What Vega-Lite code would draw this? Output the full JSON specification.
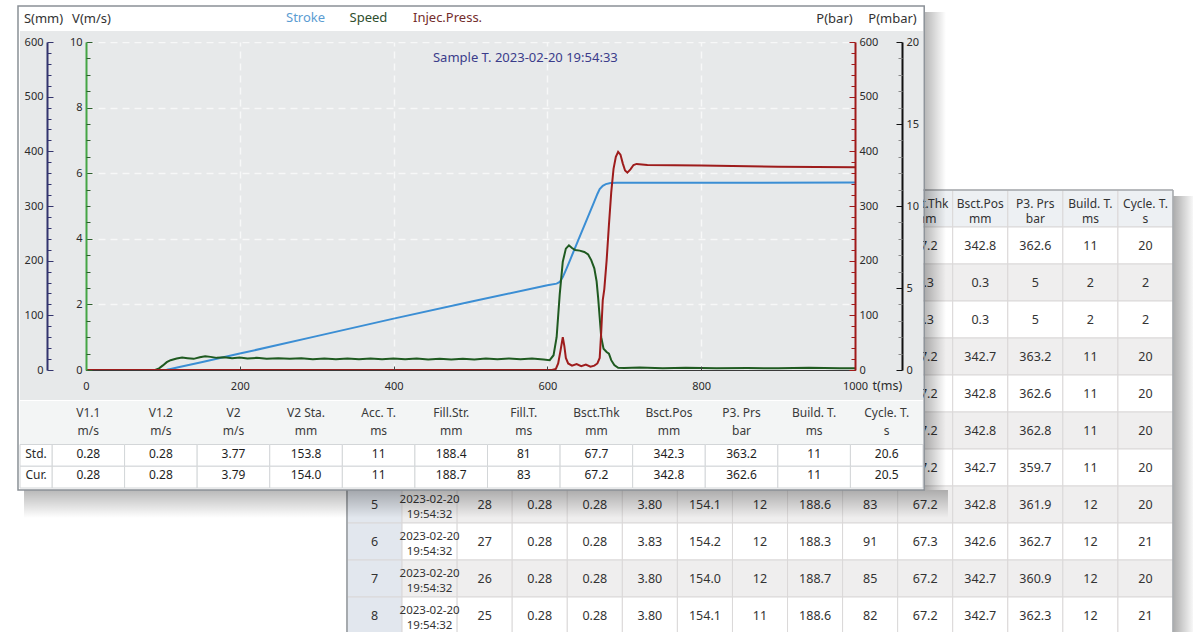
{
  "$schema": "https://vega.github.io/schema/vega-lite/v6.json",
  "autosize": {"type": "none"},
  "width": 769,
  "height": 328,
  "padding": {"left": 86, "top": 42, "right": 338, "bottom": 262},
  "background": "#ffffff",
  "view": {"fill": "#e7e9ea", "stroke": null},
  "config": {"font": "Noto Sans", "text": {"font": "Noto Sans"}, "axis": {"labelFont": "Noto Sans", "titleFont": "Noto Sans"}},
  "data": {"values": [{}]},
  "datasets": {
    "stroke": [{"t":0,"s":0},{"t":100,"s":0},{"t":105,"s":0.5},{"t":110,"s":2},{"t":120,"s":5},{"t":150,"s":14},{"t":200,"s":30},{"t":300,"s":62},{"t":400,"s":94},{"t":500,"s":125},{"t":600,"s":155},{"t":612,"s":158},{"t":616,"s":161},{"t":620,"s":170},{"t":625,"s":186},{"t":630,"s":203},{"t":640,"s":237},{"t":650,"s":271},{"t":660,"s":305},{"t":665,"s":322},{"t":668,"s":331},{"t":672,"s":337},{"t":676,"s":340},{"t":682,"s":342},{"t":690,"s":342.6},{"t":1000,"s":342.8}],
    "speed": [{"t":0,"v":0},{"t":90,"v":0},{"t":95,"v":0.05},{"t":100,"v":0.14},{"t":105,"v":0.24},{"t":110,"v":0.3},{"t":118,"v":0.35},{"t":125,"v":0.38},{"t":132,"v":0.36},{"t":140,"v":0.34},{"t":148,"v":0.39},{"t":155,"v":0.42},{"t":162,"v":0.4},{"t":170,"v":0.37},{"t":180,"v":0.39},{"t":190,"v":0.36},{"t":200,"v":0.38},{"t":210,"v":0.35},{"t":222,"v":0.37},{"t":235,"v":0.34},{"t":250,"v":0.36},{"t":265,"v":0.34},{"t":280,"v":0.36},{"t":295,"v":0.33},{"t":310,"v":0.35},{"t":325,"v":0.33},{"t":340,"v":0.35},{"t":355,"v":0.33},{"t":370,"v":0.35},{"t":385,"v":0.33},{"t":400,"v":0.35},{"t":415,"v":0.33},{"t":430,"v":0.35},{"t":445,"v":0.32},{"t":460,"v":0.34},{"t":475,"v":0.32},{"t":490,"v":0.34},{"t":505,"v":0.32},{"t":520,"v":0.35},{"t":535,"v":0.33},{"t":550,"v":0.35},{"t":565,"v":0.33},{"t":580,"v":0.35},{"t":595,"v":0.32},{"t":603,"v":0.3},{"t":608,"v":0.45},{"t":612,"v":1.0},{"t":616,"v":2.3},{"t":620,"v":3.3},{"t":624,"v":3.7},{"t":628,"v":3.8},{"t":632,"v":3.72},{"t":636,"v":3.66},{"t":642,"v":3.64},{"t":648,"v":3.6},{"t":653,"v":3.52},{"t":657,"v":3.35},{"t":661,"v":3.1},{"t":664,"v":2.7},{"t":666,"v":2.2},{"t":668,"v":1.6},{"t":670,"v":1.0},{"t":673,"v":0.65},{"t":677,"v":0.55},{"t":680,"v":0.5},{"t":683,"v":0.3},{"t":687,"v":0.15},{"t":692,"v":0.07},{"t":700,"v":0.06},{"t":720,"v":0.08},{"t":750,"v":0.05},{"t":780,"v":0.07},{"t":820,"v":0.05},{"t":860,"v":0.06},{"t":900,"v":0.05},{"t":940,"v":0.07},{"t":980,"v":0.05},{"t":1000,"v":0.05}],
    "press": [{"t":0,"p":0},{"t":606,"p":0},{"t":611,"p":2},{"t":614,"p":12},{"t":617,"p":35},{"t":620,"p":60},{"t":622,"p":44},{"t":624,"p":22},{"t":627,"p":12},{"t":632,"p":8},{"t":638,"p":11},{"t":644,"p":7},{"t":650,"p":10},{"t":656,"p":6},{"t":661,"p":8},{"t":665,"p":12},{"t":668,"p":22},{"t":670,"p":70},{"t":672,"p":128},{"t":674,"p":148},{"t":677,"p":200},{"t":680,"p":265},{"t":683,"p":325},{"t":686,"p":368},{"t":689,"p":390},{"t":692,"p":399},{"t":695,"p":394},{"t":698,"p":378},{"t":701,"p":365},{"t":704,"p":361},{"t":708,"p":367},{"t":712,"p":375},{"t":716,"p":377},{"t":730,"p":375},{"t":800,"p":374},{"t":900,"p":372},{"t":1000,"p":371}],
    "mainTable": [
      {"row":"hdr1","v11":"V1.1","v12":"V1.2","v2":"V2","v2sta":"V2 Sta.","acct":"Acc. T.","fillstr":"Fill.Str.","fillt":"Fill.T.","bthk":"Bsct.Thk","bpos":"Bsct.Pos","p3":"P3. Prs","buildt":"Build. T.","cyclet":"Cycle. T."},
      {"row":"hdr2","v11":"m/s","v12":"m/s","v2":"m/s","v2sta":"mm","acct":"ms","fillstr":"mm","fillt":"ms","bthk":"mm","bpos":"mm","p3":"bar","buildt":"ms","cyclet":"s"},
      {"row":"std","label":"Std.","v11":"0.28","v12":"0.28","v2":"3.77","v2sta":"153.8","acct":"11","fillstr":"188.4","fillt":"81","bthk":"67.7","bpos":"342.3","p3":"363.2","buildt":"11","cyclet":"20.6"},
      {"row":"cur","label":"Cur.","v11":"0.28","v12":"0.28","v2":"3.79","v2sta":"154.0","acct":"11","fillstr":"188.7","fillt":"83","bthk":"67.2","bpos":"342.8","p3":"362.6","buildt":"11","cyclet":"20.5"}
    ],
    "backTable": [
      {"i":0,"row":"hdr","bthk":"Bsct.Thk\nmm","bpos":"Bsct.Pos\nmm","p3":"P3. Prs\nbar","buildt":"Build. T.\nms","cyclet":"Cycle. T.\ns"},
      {"i":1,"row":"a","bthk":"67.2","bpos":"342.8","p3":"362.6","buildt":"11","cyclet":"20"},
      {"i":2,"row":"b","bthk":"0.3","bpos":"0.3","p3":"5","buildt":"2","cyclet":"2"},
      {"i":3,"row":"c","bthk":"0.3","bpos":"0.3","p3":"5","buildt":"2","cyclet":"2"},
      {"i":4,"row":"1","bthk":"67.2","bpos":"342.7","p3":"363.2","buildt":"11","cyclet":"20"},
      {"i":5,"row":"2","bthk":"67.2","bpos":"342.8","p3":"362.6","buildt":"11","cyclet":"20"},
      {"i":6,"row":"3","bthk":"67.2","bpos":"342.8","p3":"362.8","buildt":"11","cyclet":"20"},
      {"i":7,"row":"4","bthk":"67.2","bpos":"342.7","p3":"359.7","buildt":"11","cyclet":"20"},
      {"i":8,"row":"5","no":"5","time":"2023-02-20\n19:54:32","c3":"28","v11":"0.28","v12":"0.28","v2":"3.80","v2sta":"154.1","acct":"12","fillstr":"188.6","fillt":"83","bthk":"67.2","bpos":"342.8","p3":"361.9","buildt":"12","cyclet":"20"},
      {"i":9,"row":"6","no":"6","time":"2023-02-20\n19:54:32","c3":"27","v11":"0.28","v12":"0.28","v2":"3.83","v2sta":"154.2","acct":"12","fillstr":"188.3","fillt":"91","bthk":"67.3","bpos":"342.6","p3":"362.7","buildt":"12","cyclet":"21"},
      {"i":10,"row":"7","no":"7","time":"2023-02-20\n19:54:32","c3":"26","v11":"0.28","v12":"0.28","v2":"3.80","v2sta":"154.0","acct":"12","fillstr":"188.7","fillt":"85","bthk":"67.2","bpos":"342.7","p3":"360.9","buildt":"12","cyclet":"20"},
      {"i":11,"row":"8","no":"8","time":"2023-02-20\n19:54:32","c3":"25","v11":"0.28","v12":"0.28","v2":"3.80","v2sta":"154.1","acct":"11","fillstr":"188.6","fillt":"82","bthk":"67.2","bpos":"342.7","p3":"362.3","buildt":"12","cyclet":"21"}
    ]
  },
  "resolve": {"scale": {"x": "independent", "y": "independent", "color": "independent"}, "axis": {"x": "independent", "y": "independent"}},
  "layer": [
    {
      "data": {"name": "backTable"},
      "transform": [{"fold": ["no","time","c3","v11","v12","v2","v2sta","acct","fillstr","fillt","bthk","bpos","p3","buildt","cyclet"], "as": ["key","value"]}, {"filter": "datum.value != null"}],
      "mark": {"type": "rect", "stroke": "#dad8d8", "strokeWidth": 1},
      "encoding": {
        "x": {"field": "key", "type": "nominal", "scale": {"type": "band", "domain": ["no","time","c3","v11","v12","v2","v2sta","acct","fillstr","fillt","bthk","bpos","p3","buildt","cyclet"], "range": [261, 1087], "paddingInner": 0, "paddingOuter": 0}, "axis": null},
        "y": {"field": "row", "type": "nominal", "scale": {"type": "band", "domain": ["hdr","a","b","c","1","2","3","4","5","6","7","8"], "range": [148, 592], "paddingInner": 0, "paddingOuter": 0}, "axis": null},
        "color": {"condition": [{"test": "datum.i == 0", "value": "#edf0f3"}, {"test": "datum.key == 'no'", "value": "#e2e7ee"}, {"test": "datum.i % 2 == 0", "value": "#efeeee"}], "value": "#ffffff"}
      }
    },
    {
      "data": {"name": "backTable"},
      "transform": [{"fold": ["no","time","c3","v11","v12","v2","v2sta","acct","fillstr","fillt","bthk","bpos","p3","buildt","cyclet"], "as": ["key","value"]}, {"filter": "datum.value != null && datum.key != 'time' && datum.i != 0"}],
      "mark": {"type": "text", "align": "center", "baseline": "middle", "fontSize": 12.5, "color": "#333333"},
      "encoding": {
        "x": {"field": "key", "type": "nominal", "scale": {"type": "band", "domain": ["no","time","c3","v11","v12","v2","v2sta","acct","fillstr","fillt","bthk","bpos","p3","buildt","cyclet"], "range": [261, 1087], "paddingInner": 0, "paddingOuter": 0}, "axis": null},
        "y": {"field": "row", "type": "nominal", "scale": {"type": "band", "domain": ["hdr","a","b","c","1","2","3","4","5","6","7","8"], "range": [148, 592], "paddingInner": 0, "paddingOuter": 0}, "axis": null},
        "text": {"field": "value"}
      }
    },
    {
      "data": {"name": "backTable"},
      "transform": [{"fold": ["no","time","c3","v11","v12","v2","v2sta","acct","fillstr","fillt","bthk","bpos","p3","buildt","cyclet"], "as": ["key","value"]}, {"filter": "datum.value != null && (datum.key == 'time' || datum.i == 0)"}],
      "mark": {"type": "text", "align": "center", "baseline": "middle", "lineBreak": "\n", "lineHeight": 15, "dy": -5, "color": "#333333"},
      "encoding": {
        "x": {"field": "key", "type": "nominal", "scale": {"type": "band", "domain": ["no","time","c3","v11","v12","v2","v2sta","acct","fillstr","fillt","bthk","bpos","p3","buildt","cyclet"], "range": [261, 1087], "paddingInner": 0, "paddingOuter": 0}, "axis": null},
        "y": {"field": "row", "type": "nominal", "scale": {"type": "band", "domain": ["hdr","a","b","c","1","2","3","4","5","6","7","8"], "range": [148, 592], "paddingInner": 0, "paddingOuter": 0}, "axis": null},
        "text": {"field": "value"},
        "size": {"condition": {"test": "datum.key == 'time'", "value": 11.5}, "value": 12}
      }
    },
    {
      "mark": {"type": "rule", "color": "#a6aaae", "strokeWidth": 1.5},
      "encoding": {
        "x": {"datum": 1089, "type": "quantitative", "scale": {"domain": [0, 1000]}, "axis": null}, "x2": {"datum": 1413.5},
        "y": {"datum": 329.27, "type": "quantitative", "scale": {"domain": [0, 600]}, "axis": null}
      }
    },
    {
      "mark": {"type": "rule", "color": "#a6aaae", "strokeWidth": 2},
      "encoding": {
        "x": {"datum": 339.4, "type": "quantitative", "scale": {"domain": [0, 1000]}, "axis": null},
        "y": {"datum": -215, "type": "quantitative", "scale": {"domain": [0, 600]}, "axis": null}, "y2": {"datum": -482.9}
      }
    },
    {
      "mark": {"type": "rule", "color": "#a6aaae", "strokeWidth": 1.5},
      "encoding": {
        "x": {"datum": 1413.5, "type": "quantitative", "scale": {"domain": [0, 1000]}, "axis": null},
        "y": {"datum": 329.27, "type": "quantitative", "scale": {"domain": [0, 600]}, "axis": null}, "y2": {"datum": -482.9}
      }
    },
    {
      "mark": {"type": "rect", "fill": {"gradient": "linear", "x1": 0, "y1": 0, "x2": 1, "y2": 0, "stops": [{"offset": 0, "color": "rgba(0,0,0,0.32)"}, {"offset": 1, "color": "rgba(0,0,0,0.03)"}]}},
      "encoding": {
        "x": {"datum": 1414.5, "type": "quantitative", "scale": {"domain": [0, 1000]}, "axis": null}, "x2": {"datum": 1439.5},
        "y": {"datum": 318.3, "type": "quantitative", "scale": {"domain": [0, 600]}, "axis": null}, "y2": {"datum": -479.27}
      }
    },
    {
      "mark": {"type": "rect", "fill": {"gradient": "linear", "x1": 0, "y1": 0, "x2": 0, "y2": 1, "stops": [{"offset": 0, "color": "rgba(0,0,0,0.28)"}, {"offset": 1, "color": "rgba(0,0,0,0)"}]}},
      "encoding": {
        "x": {"datum": -80.6, "type": "quantitative", "scale": {"domain": [0, 1000]}, "axis": null}, "x2": {"datum": 1120.9},
        "y": {"datum": -219.5, "type": "quantitative", "scale": {"domain": [0, 600]}, "axis": null}, "y2": {"datum": -270.7}
      }
    },
    {
      "mark": {"type": "rect", "fill": {"gradient": "linear", "x1": 0, "y1": 0, "x2": 1, "y2": 0, "stops": [{"offset": 0, "color": "rgba(0,0,0,0.28)"}, {"offset": 1, "color": "rgba(0,0,0,0)"}]}},
      "encoding": {
        "x": {"datum": 1091.0, "type": "quantitative", "scale": {"domain": [0, 1000]}, "axis": null}, "x2": {"datum": 1118.3},
        "y": {"datum": 654.9, "type": "quantitative", "scale": {"domain": [0, 600]}, "axis": null}, "y2": {"datum": -219.5}
      }
    },
    {
      "mark": {"type": "rect", "color": "#ffffff"},
      "encoding": {
        "x": {"datum": -88.43, "type": "quantitative", "scale": {"domain": [0, 1000]}, "axis": null}, "x2": {"datum": 1091.03},
        "y": {"datum": -54.88, "type": "quantitative", "scale": {"domain": [0, 600]}, "axis": null}, "y2": {"datum": -219.51}
      }
    },
    {
      "mark": {"type": "rect", "color": "#e7e9ea"},
      "encoding": {
        "x": {"datum": -85.83, "type": "quantitative", "scale": {"domain": [0, 1000]}, "axis": null}, "x2": {"datum": 0},
        "y": {"datum": 620.12, "type": "quantitative", "scale": {"domain": [0, 600]}, "axis": null}, "y2": {"datum": -54.88}
      }
    },
    {
      "mark": {"type": "rect", "color": "#e7e9ea"},
      "encoding": {
        "x": {"datum": 1000, "type": "quantitative", "scale": {"domain": [0, 1000]}, "axis": null}, "x2": {"datum": 1088.43},
        "y": {"datum": 620.12, "type": "quantitative", "scale": {"domain": [0, 600]}, "axis": null}, "y2": {"datum": -54.88}
      }
    },
    {
      "mark": {"type": "rect", "color": "#e7e9ea"},
      "encoding": {
        "x": {"datum": 0, "type": "quantitative", "scale": {"domain": [0, 1000]}, "axis": null}, "x2": {"datum": 1000},
        "y": {"datum": 620.12, "type": "quantitative", "scale": {"domain": [0, 600]}, "axis": null}, "y2": {"datum": 600}
      }
    },
    {
      "mark": {"type": "rect", "color": "#e7e9ea"},
      "encoding": {
        "x": {"datum": 0, "type": "quantitative", "scale": {"domain": [0, 1000]}, "axis": null}, "x2": {"datum": 1000},
        "y": {"datum": 0, "type": "quantitative", "scale": {"domain": [0, 600]}, "axis": null}, "y2": {"datum": -54.88}
      }
    },
    {
      "mark": {"type": "rule", "opacity": 0},
      "encoding": {
        "x": {"datum": 0, "type": "quantitative", "scale": {"domain": [0, 1000]}, "axis": {"orient": "bottom", "values": [200, 400, 600, 800], "grid": true, "gridColor": "#f7f8f8", "gridDash": [7, 5], "gridWidth": 1.4, "domain": false, "ticks": false, "labels": false, "title": null, "zindex": 0}}
      }
    },
    {
      "mark": {"type": "rule", "opacity": 0},
      "encoding": {
        "y": {"datum": 0, "type": "quantitative", "scale": {"domain": [0, 10]}, "axis": {"orient": "left", "values": [2, 4, 6, 8, 10], "grid": true, "gridColor": "#f7f8f8", "gridDash": [7, 5], "gridWidth": 1.4, "domain": false, "ticks": false, "labels": false, "title": null, "zindex": 0}}
      }
    },
    {
      "data": {"values": [{"name": "Stroke"}, {"name": "Speed"}, {"name": "Injec.Press."}]},
      "mark": {"type": "text", "align": "left", "baseline": "middle", "fontSize": 13},
      "encoding": {
        "x": {"field": "name", "type": "nominal", "scale": {"type": "point", "domain": ["Stroke", "Speed", "Injec.Press."], "range": [200, 327], "padding": 0}, "axis": null},
        "y": {"datum": 643.9, "type": "quantitative", "scale": {"domain": [0, 600]}, "axis": null},
        "text": {"field": "name"},
        "color": {"field": "name", "type": "nominal", "scale": {"domain": ["Stroke", "Speed", "Injec.Press."], "range": ["#5b9cd2", "#2e4e2e", "#742c2c"]}, "legend": null}
      }
    },
    {
      "data": {"values": [{"label": "Sample T. 2023-02-20 19:54:33"}]},
      "mark": {"type": "text", "align": "left", "baseline": "middle", "fontSize": 13, "color": "#3b3c8a"},
      "encoding": {
        "x": {"datum": 451.2, "type": "quantitative", "scale": {"domain": [0, 1000]}, "axis": null},
        "y": {"datum": 570.7, "type": "quantitative", "scale": {"domain": [0, 600]}, "axis": null},
        "text": {"field": "label"}
      }
    },
    {
      "data": {"name": "stroke"},
      "mark": {"type": "line", "color": "#3b8ed4", "strokeWidth": 2},
      "encoding": {
        "x": {"field": "t", "type": "quantitative", "scale": {"domain": [0, 1000]}, "axis": {"orient": "bottom", "values": [0, 200, 400, 600, 800, 1000], "format": "d", "grid": false, "domain": true, "domainColor": "#3a3a3a", "domainWidth": 1, "ticks": true, "tickSize": -4, "tickColor": "#444444", "labelPadding": 14.5, "labelFontSize": 11, "labelColor": "#2b2b2b", "labelFlush": false, "labelOverlap": false, "title": "t(ms)", "titleX": 786, "titleY": 15, "titleAlign": "left", "titleBaseline": "middle", "titleAngle": 0, "titleFontSize": 12.5, "titleFontWeight": "normal", "titleColor": "#2b2b2b", "zindex": 1}},
        "y": {"field": "s", "type": "quantitative", "scale": {"domain": [0, 600]}, "axis": {"orient": "left", "offset": 39, "values": [0, 100, 200, 300, 400, 500, 600], "grid": false, "domainColor": "#33346e", "domainWidth": 2, "tickColor": "#33346e", "tickSize": -6, "tickWidth": 1, "labelPadding": 10, "labelFontSize": 11, "labelColor": "#2b2b2b", "title": "S(mm)", "titleX": -4, "titleY": -24, "titleAngle": 0, "titleAlign": "center", "titleBaseline": "middle", "titleFontSize": 13, "titleFontWeight": "normal", "titleColor": "#333333", "zindex": 1}}
      }
    },
    {
      "data": {"name": "speed"},
      "mark": {"type": "line", "color": "#1f5a20", "strokeWidth": 2},
      "encoding": {
        "x": {"field": "t", "type": "quantitative", "scale": {"domain": [0, 1000]}, "axis": null},
        "y": {"field": "v", "type": "quantitative", "scale": {"domain": [0, 10]}, "axis": {"orient": "left", "offset": 0, "values": [0, 2, 4, 6, 8, 10], "grid": false, "domainColor": "#45a545", "domainWidth": 2, "tickColor": "#2f5f2f", "tickSize": -6, "tickWidth": 1, "labelPadding": 10, "labelFontSize": 11, "labelColor": "#2b2b2b", "title": "V(m/s)", "titleX": 5, "titleY": -24, "titleAngle": 0, "titleAlign": "center", "titleBaseline": "middle", "titleFontSize": 13, "titleFontWeight": "normal", "titleColor": "#333333", "zindex": 1}}
      }
    },
    {
      "data": {"name": "press"},
      "mark": {"type": "line", "color": "#9e1c1c", "strokeWidth": 2},
      "encoding": {
        "x": {"field": "t", "type": "quantitative", "scale": {"domain": [0, 1000]}, "axis": null},
        "y": {"field": "p", "type": "quantitative", "scale": {"domain": [0, 600]}, "axis": {"orient": "right", "offset": 0, "values": [0, 100, 200, 300, 400, 500, 600], "grid": false, "domainColor": "#a01a1a", "domainWidth": 2, "tickColor": "#a01a1a", "tickSize": -6, "tickWidth": 1, "labelPadding": 10, "labelFontSize": 11, "labelColor": "#2b2b2b", "title": "P(bar)", "titleX": -21, "titleY": -24, "titleAngle": 0, "titleAlign": "center", "titleBaseline": "middle", "titleFontSize": 13, "titleFontWeight": "normal", "titleColor": "#333333", "zindex": 1}}
      }
    },
    {
      "mark": {"type": "rule", "opacity": 0},
      "encoding": {
        "y": {"datum": 0, "type": "quantitative", "scale": {"domain": [0, 20]}, "axis": {"orient": "right", "offset": 47, "values": [0, 5, 10, 15, 20], "grid": false, "domainColor": "#111111", "domainWidth": 2, "tickColor": "#111111", "tickSize": -6, "tickWidth": 1, "labelPadding": 10, "labelFontSize": 11, "labelColor": "#2b2b2b", "title": "P(mbar)", "titleX": -10, "titleY": -24, "titleAngle": 0, "titleAlign": "center", "titleBaseline": "middle", "titleFontSize": 13, "titleFontWeight": "normal", "titleColor": "#333333", "zindex": 1}}
      }
    },
    {
      "mark": {"type": "rule", "opacity": 0},
      "encoding": {
        "y": {"datum": 0, "type": "quantitative", "scale": {"domain": [0, 600]}, "axis": {"orient": "left", "offset": 39, "values": [20,40,60,80,120,140,160,180,220,240,260,280,320,340,360,380,420,440,460,480,520,540,560,580], "grid": false, "domain": false, "labels": false, "tickColor": "#33346e", "tickSize": -4, "tickWidth": 1, "title": null, "zindex": 1}}
      }
    },
    {
      "mark": {"type": "rule", "opacity": 0},
      "encoding": {
        "y": {"datum": 0, "type": "quantitative", "scale": {"domain": [0, 10]}, "axis": {"orient": "left", "offset": 0, "values": [0.5,1,1.5,2.5,3,3.5,4.5,5,5.5,6.5,7,7.5,8.5,9,9.5], "grid": false, "domain": false, "labels": false, "tickColor": "#2f5f2f", "tickSize": -4, "tickWidth": 1, "title": null, "zindex": 1}}
      }
    },
    {
      "mark": {"type": "rule", "opacity": 0},
      "encoding": {
        "y": {"datum": 0, "type": "quantitative", "scale": {"domain": [0, 600]}, "axis": {"orient": "right", "offset": 0, "values": [20,40,60,80,120,140,160,180,220,240,260,280,320,340,360,380,420,440,460,480,520,540,560,580], "grid": false, "domain": false, "labels": false, "tickColor": "#a01a1a", "tickSize": -4, "tickWidth": 1, "title": null, "zindex": 1}}
      }
    },
    {
      "mark": {"type": "rule", "opacity": 0},
      "encoding": {
        "y": {"datum": 0, "type": "quantitative", "scale": {"domain": [0, 20]}, "axis": {"orient": "right", "offset": 47, "values": [1,2,3,4,6,7,8,9,11,12,13,14,16,17,18,19], "grid": false, "domain": false, "labels": false, "tickColor": "#8a8a8a", "tickSize": -4, "tickWidth": 1, "title": null, "zindex": 1}}
      }
    },
    {
      "mark": {"type": "rect", "color": "#f3f5f5"},
      "encoding": {
        "x": {"datum": -85.83, "type": "quantitative", "scale": {"domain": [0, 1000]}, "axis": null}, "x2": {"datum": 1088.43},
        "y": {"datum": -56.71, "type": "quantitative", "scale": {"domain": [0, 600]}, "axis": null}, "y2": {"datum": -136.28}
      }
    },
    {
      "data": {"name": "mainTable"},
      "transform": [{"fold": ["v11","v12","v2","v2sta","acct","fillstr","fillt","bthk","bpos","p3","buildt","cyclet"], "as": ["key","value"]}, {"filter": "datum.row == 'std' || datum.row == 'cur'"}],
      "mark": {"type": "rect", "color": "#ffffff", "stroke": "#d3d6d8", "strokeWidth": 1},
      "encoding": {
        "x": {"field": "key", "type": "nominal", "scale": {"type": "band", "domain": ["v11","v12","v2","v2sta","acct","fillstr","fillt","bthk","bpos","p3","buildt","cyclet"], "range": [-34, 837], "paddingInner": 0, "paddingOuter": 0}, "axis": null},
        "y": {"field": "row", "type": "nominal", "scale": {"type": "band", "domain": ["hdr1","hdr2","std","cur"], "range": [359, 446], "paddingInner": 0, "paddingOuter": 0}, "axis": null}
      }
    },
    {
      "data": {"name": "mainTable"},
      "transform": [{"filter": "datum.row == 'std' || datum.row == 'cur'"}],
      "mark": {"type": "rect", "color": "#ffffff", "stroke": "#d3d6d8", "strokeWidth": 1},
      "encoding": {
        "x": {"datum": "lab", "type": "nominal", "scale": {"type": "band", "domain": ["lab"], "range": [-66, -34], "paddingInner": 0, "paddingOuter": 0}, "axis": null},
        "y": {"field": "row", "type": "nominal", "scale": {"type": "band", "domain": ["hdr1","hdr2","std","cur"], "range": [359, 446], "paddingInner": 0, "paddingOuter": 0}, "axis": null}
      }
    },
    {
      "data": {"name": "mainTable"},
      "transform": [{"fold": ["v11","v12","v2","v2sta","acct","fillstr","fillt","bthk","bpos","p3","buildt","cyclet"], "as": ["key","value"]}, {"filter": "datum.row == 'hdr1' || datum.row == 'hdr2'"}],
      "mark": {"type": "text", "align": "center", "baseline": "middle", "fontSize": 12, "color": "#3a3a3a"},
      "encoding": {
        "x": {"field": "key", "type": "nominal", "scale": {"type": "band", "domain": ["v11","v12","v2","v2sta","acct","fillstr","fillt","bthk","bpos","p3","buildt","cyclet"], "range": [-34, 837], "paddingInner": 0, "paddingOuter": 0}, "axis": null},
        "y": {"field": "row", "type": "nominal", "scale": {"type": "band", "domain": ["hdr1","hdr2"], "range": [362, 398], "paddingInner": 0, "paddingOuter": 0}, "axis": null},
        "text": {"field": "value"}
      }
    },
    {
      "data": {"name": "mainTable"},
      "transform": [{"fold": ["v11","v12","v2","v2sta","acct","fillstr","fillt","bthk","bpos","p3","buildt","cyclet"], "as": ["key","value"]}, {"filter": "datum.row == 'std' || datum.row == 'cur'"}],
      "mark": {"type": "text", "align": "center", "baseline": "middle", "fontSize": 12, "color": "#1e1e1e"},
      "encoding": {
        "x": {"field": "key", "type": "nominal", "scale": {"type": "band", "domain": ["v11","v12","v2","v2sta","acct","fillstr","fillt","bthk","bpos","p3","buildt","cyclet"], "range": [-34, 837], "paddingInner": 0, "paddingOuter": 0}, "axis": null},
        "y": {"field": "row", "type": "nominal", "scale": {"type": "band", "domain": ["std","cur"], "range": [401, 444], "paddingInner": 0, "paddingOuter": 0}, "axis": null},
        "text": {"field": "value"}
      }
    },
    {
      "data": {"name": "mainTable"},
      "transform": [{"filter": "datum.row == 'std' || datum.row == 'cur'"}],
      "mark": {"type": "text", "align": "center", "baseline": "middle", "fontSize": 12, "color": "#2a2a2a"},
      "encoding": {
        "x": {"datum": "lab", "type": "nominal", "scale": {"type": "band", "domain": ["lab"], "range": [-66, -34], "paddingInner": 0, "paddingOuter": 0}, "axis": null},
        "y": {"field": "row", "type": "nominal", "scale": {"type": "band", "domain": ["std","cur"], "range": [401, 444], "paddingInner": 0, "paddingOuter": 0}, "axis": null},
        "text": {"field": "label"}
      }
    },
    {
      "mark": {"type": "rect", "filled": false, "color": "#8a9096", "strokeWidth": 1.5},
      "encoding": {
        "x": {"datum": -88.43, "type": "quantitative", "scale": {"domain": [0, 1000]}, "axis": null}, "x2": {"datum": 1090.0},
        "y": {"datum": 665.85, "type": "quantitative", "scale": {"domain": [0, 600]}, "axis": null}, "y2": {"datum": -219.51}
      }
    }
  ]
}
